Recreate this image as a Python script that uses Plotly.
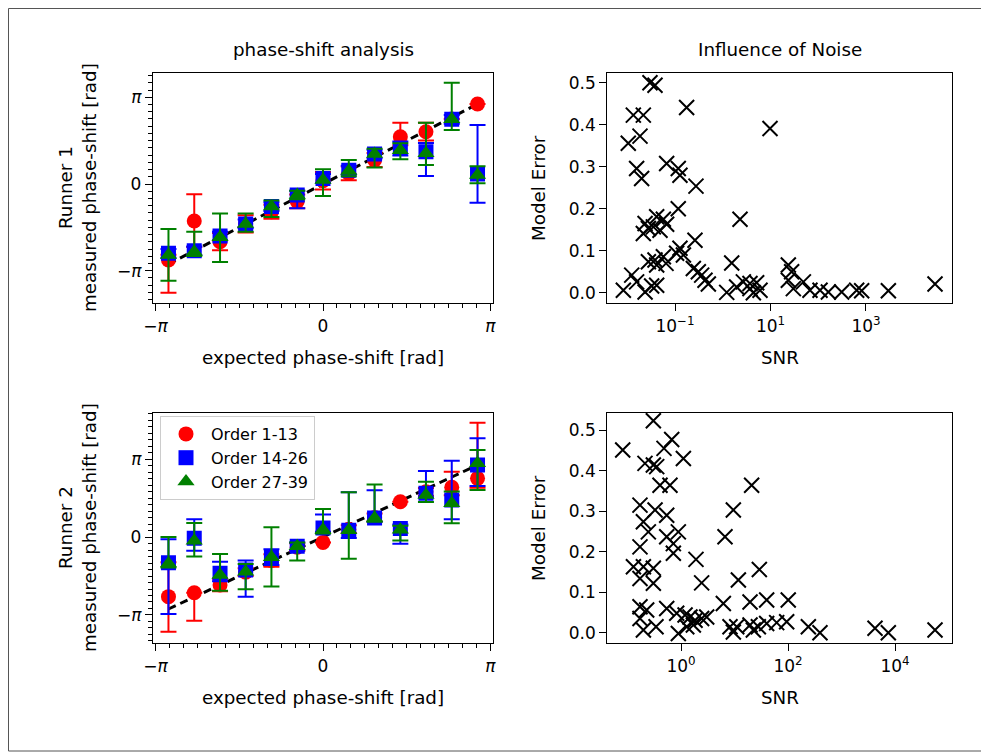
"""Phase-shift analysis and influence of noise (two runners)"""
import plotly.graph_objects as go

# the page puts the figure 8px in from the top-left corner
OFF = 8
W, H = 989 - OFF, 753 - OFF
FONT = "DejaVu Sans"

# expected phase-shift, in units of pi
expected_pi = [-0.923, -0.769, -0.615, -0.462, -0.308, -0.154, 0.0,
               0.154, 0.308, 0.462, 0.615, 0.769, 0.923]

# ---- Runner 1: measured phase-shift (units of pi) with upper / lower errors
r1_red = [-0.877, -0.427, -0.665, -0.46, -0.32, -0.2, 0.038, 0.123, 0.277, 0.546, 0.603, 0.75, 0.923]
r1_red_up = [0.06, 0.308, 0.1, 0.1, 0.08, 0.08, 0.1, 0.08, 0.08, 0.161, 0.104, 0.0, 0.0]
r1_red_dn = [0.376, 0.3, 0.1, 0.1, 0.08, 0.08, 0.1, 0.08, 0.08, 0.1, 0.1, 0.0, 0.0]
r1_blue = [-0.80, -0.77, -0.60, -0.46, -0.26, -0.127, 0.065, 0.16, 0.346, 0.41, 0.373, 0.746, 0.115]
r1_blue_up = [0.05, 0.05, 0.05, 0.05, 0.05, 0.05, 0.05, 0.05, 0.05, 0.08, 0.1, 0.05, 0.565]
r1_blue_dn = [0.05, 0.05, 0.05, 0.05, 0.05, 0.153, 0.05, 0.05, 0.05, 0.08, 0.281, 0.05, 0.33]
r1_green = [-0.82, -0.78, -0.615, -0.46, -0.26, -0.127, 0.046, 0.15, 0.346, 0.39, 0.354, 0.746, 0.104]
r1_green_up = [0.30, 0.23, 0.275, 0.12, 0.07, 0.05, 0.124, 0.127, 0.06, 0.08, 0.353, 0.422, 0.1]
r1_green_dn = [0.295, 0.05, 0.285, 0.09, 0.12, 0.05, 0.184, 0.06, 0.156, 0.105, 0.135, 0.123, 0.096]

# ---- Runner 2
r2_red = [-0.765, -0.714, -0.615, -0.45, -0.30, -0.13, -0.069, 0.10, 0.25, 0.453, 0.58, 0.637, 0.752]
r2_red_up = [0.44, 0.0, 0.08, 0.05, 0.08, 0.05, 0.0, 0.05, 0.05, 0.0, 0.05, 0.2, 0.713]
r2_red_dn = [0.449, 0.359, 0.08, 0.05, 0.08, 0.05, 0.0, 0.05, 0.05, 0.0, 0.05, 0.1, 0.12]
r2_blue = [-0.33, -0.017, -0.466, -0.423, -0.258, -0.12, 0.116, 0.086, 0.245, 0.11, 0.56, 0.474, 0.923]
r2_blue_up = [0.30, 0.244, 0.149, 0.123, 0.1, 0.05, 0.172, 0.489, 0.355, 0.05, 0.286, 0.504, 0.342]
r2_blue_dn = [0.657, 0.159, 0.1, 0.342, 0.1, 0.05, 0.05, 0.1, 0.05, 0.196, 0.05, 0.247, 0.269]
r2_green = [-0.34, -0.047, -0.487, -0.445, -0.258, -0.12, 0.094, 0.086, 0.245, 0.094, 0.54, 0.432, 0.945]
r2_green_up = [0.34, 0.227, 0.269, 0.1, 0.382, 0.05, 0.266, 0.489, 0.429, 0.05, 0.17, 0.15, 0.17]
r2_green_dn = [0.05, 0.203, 0.201, 0.225, 0.377, 0.18, 0.05, 0.366, 0.05, 0.14, 0.09, 0.257, 0.342]

# ---- Influence of noise: SNR vs model error
r1_snr = [0.0299, 0.0381, 0.0134, 0.0217, 0.175, 0.0185, 0.0105, 9.77, 0.0157, 0.0200,
          0.0668, 0.117, 0.127, 0.275, 0.117, 2.30, 0.0236, 0.0277, 0.0413, 0.0570,
          0.0668, 0.0352, 0.0485, 0.0217, 0.262, 0.127, 0.150, 0.108, 0.0570, 0.0381,
          0.0277, 0.0413, 0.0649, 1.54, 0.242, 0.308, 0.362, 0.425, 0.499, 0.00828,
          0.0124, 0.0157, 0.0236, 0.0324, 0.0413, 1.21, 1.95, 2.70, 3.72, 5.13,
          6.03, 4.37, 23.6, 27.7, 23.6, 30.1, 48.8, 67.1, 109, 163,
          309, 638, 811, 2940, 27900, 3.72]
r1_err = [0.5, 0.494, 0.423, 0.423, 0.441, 0.373, 0.356, 0.391, 0.296, 0.272,
          0.308, 0.296, 0.28, 0.254, 0.2, 0.175, 0.165, 0.153, 0.181, 0.175,
          0.163, 0.157, 0.149, 0.141, 0.125, 0.106, 0.09, 0.094, 0.086, 0.078,
          0.074, 0.066, 0.07, 0.071, 0.058, 0.05, 0.042, 0.03, 0.021, 0.006,
          0.042, 0.026, 0.002, 0.016, 0.018, 0.001, 0.014, 0.026, 0.01, 0.024,
          0.006, 0.0, 0.066, 0.05, 0.03, 0.01, 0.026, 0.006, 0.006, 0.002,
          0.002, 0.006, 0.005, 0.005, 0.021, 0.022]

r2_snr = [0.0813, 0.304, 0.670, 0.481, 1.107, 0.212, 0.304, 0.351, 0.405, 0.622,
          20.9, 0.171, 0.327, 0.540, 9.51, 0.198, 0.245, 0.891, 6.64, 0.540,
          0.171, 0.719, 0.719, 1.905, 29.1, 0.129, 0.198, 0.304, 0.171, 0.304,
          2.43, 11.8, 0.171, 0.228, 0.540, 6.18, 19.5, 39.9, 101, 0.830,
          1.19, 1.47, 1.83, 2.43, 3.02, 0.171, 0.198, 0.341, 0.891, 1.28,
          1.70, 8.24, 11.0, 19.5, 27.9, 39.9, 61.4, 94.4, 240, 396,
          4230, 7500, 56000, 9.51, 22.5]
r2_err = [0.451, 0.523, 0.477, 0.455, 0.43, 0.418, 0.414, 0.41, 0.364, 0.364,
          0.364, 0.315, 0.303, 0.29, 0.303, 0.274, 0.249, 0.249, 0.237, 0.237,
          0.212, 0.22, 0.196, 0.181, 0.156, 0.163, 0.163, 0.159, 0.134, 0.122,
          0.123, 0.13, 0.064, 0.056, 0.06, 0.072, 0.076, 0.081, 0.081, 0.048,
          0.044, 0.039, 0.031, 0.035, 0.039, 0.035, 0.007, 0.015, -0.002, 0.015,
          0.019, 0.015, 0.015, 0.019, 0.015, 0.023, 0.025, 0.027, 0.015, 0.0,
          0.011, 0.0, 0.007, 0.002, 0.007]

ORDER_NAMES = ["Order 1-13", "Order 14-26", "Order 27-39"]
COLORS = ["#ff0000", "#0000ff", "#008000"]
SYMBOLS = ["circle", "square", "triangle-up"]
SIZES = [15, 15, 15]


def px_x(x):
    return (x - OFF) / W


def px_y(y):
    return 1 - (y - OFF) / H


fig = go.Figure()

runner_series = [
    ("x", "y", [(r1_red, r1_red_up, r1_red_dn), (r1_blue, r1_blue_up, r1_blue_dn),
                (r1_green, r1_green_up, r1_green_dn)], False),
    ("x3", "y3", [(r2_red, r2_red_up, r2_red_dn), (r2_blue, r2_blue_up, r2_blue_dn),
                  (r2_green, r2_green_up, r2_green_dn)], True),
]
for xa, ya, series, legend in runner_series:
    fig.add_trace(go.Scatter(
        x=[expected_pi[0], expected_pi[-1]], y=[expected_pi[0], expected_pi[-1]],
        mode="lines", line=dict(color="black", width=3, dash="8px,5px"),
        xaxis=xa, yaxis=ya, showlegend=False, hoverinfo="skip",
    ))
    for i, (vals, up, dn) in enumerate(series):
        fig.add_trace(go.Scatter(
            x=expected_pi, y=vals, mode="markers", name=ORDER_NAMES[i],
            marker=dict(color=COLORS[i], symbol=SYMBOLS[i], size=SIZES[i], line=dict(width=0)),
            error_y=dict(type="data", symmetric=False, array=up, arrayminus=dn,
                         color=COLORS[i], thickness=2, width=8),
            xaxis=xa, yaxis=ya, showlegend=legend,
        ))

for xa, ya, snr, err in [("x2", "y2", r1_snr, r1_err), ("x4", "y4", r2_snr, r2_err)]:
    fig.add_trace(go.Scatter(
        x=snr, y=err, mode="markers", showlegend=False,
        marker=dict(symbol="x-thin-open", size=15, color="black",
                    line=dict(width=2, color="black")),
        xaxis=xa, yaxis=ya,
    ))

TICKFONT = dict(family=FONT, size=17, color="black")
axis_common = dict(showgrid=False, zeroline=False, showline=True, mirror=True,
                   linecolor="black", linewidth=1.3, ticks="outside", ticklen=7,
                   tickwidth=1.3, tickcolor="black", tickfont=TICKFONT)
pi_ticks = dict(tickmode="array", tickvals=[-1, 0, 1],
                ticktext=["\u2212<i>\u03c0</i>", "0", "<i>\u03c0</i>"],
                minor=dict(dtick=1 / 12, tick0=0, ticks="outside", ticklen=4,
                           tickwidth=1, tickcolor="black"))

left_dom = [px_x(153), px_x(493)]
right_dom = [px_x(607.3), px_x(951.7)]
top_dom = [px_y(303.3), px_y(72.7)]
bot_dom = [px_y(643.3), px_y(412.7)]

fig.update_layout(
    width=W, height=H, plot_bgcolor="white", paper_bgcolor="white",
    margin=dict(l=0, r=0, t=0, b=0, autoexpand=False),
    font=dict(family=FONT, size=16, color="black"),
    xaxis=dict(domain=left_dom, anchor="y", range=[-1.0154, 1.0154], **pi_ticks, **axis_common),
    yaxis=dict(domain=top_dom, anchor="x", range=[-1.376, 1.284], **pi_ticks, **axis_common),
    xaxis2=dict(domain=right_dom, anchor="y2", type="log", range=[-2.418, 4.795],
                tickmode="array", tickvals=[0.1, 10, 1000],
                ticktext=["10<sup>\u22121</sup>", "10<sup>1</sup>", "10<sup>3</sup>"], **axis_common),
    yaxis2=dict(domain=top_dom, anchor="x2", range=[-0.025, 0.524],
                tickmode="array", tickvals=[0, 0.1, 0.2, 0.3, 0.4, 0.5],
                ticktext=["0.0", "0.1", "0.2", "0.3", "0.4", "0.5"], **axis_common),
    xaxis3=dict(domain=left_dom, anchor="y3", range=[-1.0154, 1.0154], **pi_ticks, **axis_common),
    yaxis3=dict(domain=bot_dom, anchor="x3", range=[-1.363, 1.594], **pi_ticks, **axis_common),
    xaxis4=dict(domain=right_dom, anchor="y4", type="log", range=[-1.378, 5.06],
                tickmode="array", tickvals=[1, 100, 10000],
                ticktext=["10<sup>0</sup>", "10<sup>2</sup>", "10<sup>4</sup>"], **axis_common),
    yaxis4=dict(domain=bot_dom, anchor="x4", range=[-0.026, 0.543],
                tickmode="array", tickvals=[0, 0.1, 0.2, 0.3, 0.4, 0.5],
                ticktext=["0.0", "0.1", "0.2", "0.3", "0.4", "0.5"], **axis_common),
    legend=dict(x=px_x(160), y=px_y(416), xanchor="left", yanchor="top",
                bgcolor="rgba(255,255,255,0.8)", bordercolor="#cccccc", borderwidth=1,
                font=dict(family=FONT, size=16, color="black"), itemsizing="trace",
                itemwidth=40, tracegroupgap=0),
    showlegend=True,
)

LABEL = dict(family=FONT, size=18.3, color="black")
texts = [
    ("phase-shift analysis", 323, 50, 0),
    ("Influence of Noise", 779.5, 50, 0),
    ("expected phase-shift [rad]", 323, 357, 0),
    ("SNR", 779.5, 357, 0),
    ("expected phase-shift [rad]", 323, 697, 0),
    ("SNR", 779.5, 697, 0),
    ("Runner 1<br>measured phase-shift [rad]", 77, 188, -90),
    ("Runner 2<br>measured phase-shift [rad]", 77, 528, -90),
    ("Model Error", 538, 188, -90),
    ("Model Error", 538, 528, -90),
]
for text, x, y, ang in texts:
    fig.add_annotation(text=text, x=px_x(x), y=px_y(y), xref="paper", yref="paper",
                       showarrow=False, textangle=ang, font=LABEL,
                       xanchor="center", yanchor="middle")

# frame around the whole figure
fig.add_shape(type="rect", xref="paper", yref="paper",
              x0=px_x(8.5), x1=px_x(984), y0=px_y(751), y1=px_y(8.5),
              line=dict(color="#555555", width=1))

fig.write_html("out.html")
